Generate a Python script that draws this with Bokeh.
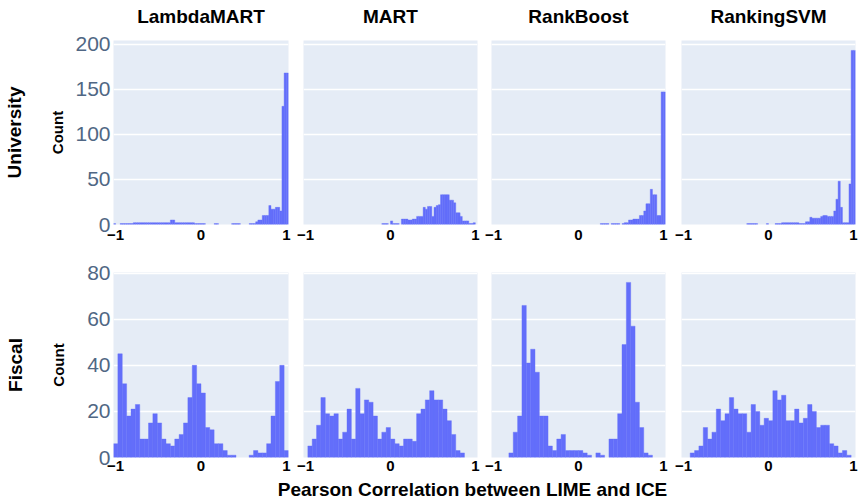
import numpy as np
from bokeh.plotting import figure
from bokeh.layouts import row, column
from bokeh.models import Range1d, FixedTicker, Label, LinearAxis, ColumnDataSource
from bokeh.embed import file_html
from bokeh.resources import INLINE

# ---------------- data ----------------
MODELS = ["LambdaMART", "MART", "RankBoost", "RankingSVM"]
DATASETS = ["University", "Fiscal"]
X_LABEL = "Pearson Correlation between LIME and ICE"
Y_LABEL = "Count"
X_TICKS = [-1, 0, 1]
Y_TICKS_UNIVERSITY = [0, 50, 100, 150, 200]
Y_TICKS_FISCAL = [0, 20, 40, 60, 80]
X_MIN, X_MAX = -1.025, 1.025
Y_MAX_UNIVERSITY = 204
Y_MAX_FISCAL = 80.3

# histogram counts, bins spanning X_MIN..X_MAX evenly
university_lambdamart = [1, 0, 0, 1, 1, 1, 1, 1, 1, 2, 2, 2, 2, 2, 2, 2, 2, 2, 2, 2,
                         2, 2, 2, 2, 2, 2, 5, 5, 2, 2, 2, 2, 2, 2, 2, 2, 2, 1, 1, 1,
                         1, 1, 0, 0, 0, 0, 1, 1, 0, 0, 0, 0, 0, 0, 1, 1, 1, 1, 0, 0,
                         0, 0, 1, 1, 1, 3, 5, 5, 10, 10, 10, 21, 17, 17, 19, 19, 15, 131, 168, 168]
university_mart = [0, 0, 0, 0, 0, 0, 0, 0, 0, 0, 0, 0, 0, 0, 0, 0, 0, 0, 0, 0,
                   0, 0, 0, 0, 0, 0, 0, 0, 0, 0, 0, 0, 0, 0, 0, 0, 1, 1, 1, 0,
                   4, 1, 1, 1, 0, 6, 6, 6, 5, 5, 6, 6, 9, 9, 9, 19, 17, 20, 20, 9,
                   19, 21, 22, 33, 33, 33, 33, 27, 27, 24, 13, 13, 9, 4, 4, 4, 1, 1, 2, 0]
university_rankboost = [0, 0, 0, 0, 0, 0, 0, 0, 0, 0, 0, 0, 0, 0, 0, 0, 0, 0, 0, 0,
                        0, 0, 0, 0, 0, 0, 0, 0, 0, 0, 0, 0, 0, 0, 0, 0, 0, 0, 0, 0,
                        0, 0, 0, 0, 0, 0, 0, 0, 0, 0, 1, 1, 1, 1, 0, 1, 1, 1, 1, 0,
                        1, 2, 2, 5, 5, 6, 6, 6, 10, 10, 15, 23, 23, 39, 33, 33, 10, 10, 147, 147]
university_rankingsvm = [0, 0, 0, 0, 0, 0, 0, 0, 0, 0, 0, 0, 0, 0, 0, 0, 0, 0, 0, 0,
                         0, 0, 0, 0, 0, 0, 0, 0, 0, 0, 1, 1, 1, 1, 1, 0, 0, 0, 0, 1,
                         0, 0, 0, 1, 1, 1, 2, 2, 2, 2, 2, 2, 2, 2, 1, 1, 1, 3, 3, 8,
                         7, 7, 7, 7, 9, 10, 10, 9, 9, 9, 15, 28, 48, 19, 2, 2, 2, 45, 193, 193]

fiscal_lambdamart = [6, 45, 32, 18, 21, 23, 8, 8, 15, 19, 15, 8, 6, 5, 8, 10, 15, 26, 40, 32,
                     28, 13, 12, 6, 6, 3, 1, 1, 0, 0, 0, 1, 3, 2, 2, 6, 18, 33, 40, 3]
fiscal_mart = [0, 5, 8, 14, 26, 19, 18, 19, 8, 11, 21, 8, 30, 19, 25, 24, 18, 8, 11, 13,
               8, 6, 5, 8, 8, 7, 19, 21, 25, 29, 25, 25, 21, 16, 10, 3, 2, 0, 0, 0]
fiscal_rankboost = [0, 0, 0, 0, 2, 11, 18, 66, 41, 47, 37, 18, 18, 5, 3, 8, 10, 3, 3, 3,
                    3, 2, 1, 0, 2, 1, 0, 8, 8, 19, 49, 76, 57, 24, 13, 2, 1, 0, 0, 0]
fiscal_rankingsvm = [0, 0, 2, 3, 5, 13, 8, 11, 21, 16, 19, 26, 21, 19, 19, 11, 23, 20, 14, 17,
                     16, 29, 25, 27, 16, 16, 21, 15, 17, 23, 20, 13, 14, 14, 6, 5, 2, 3, 1, 0]

COUNTS = [
    [university_lambdamart, university_mart, university_rankboost, university_rankingsvm],
    [fiscal_lambdamart, fiscal_mart, fiscal_rankboost, fiscal_rankingsvm],
]
Y_TICKS = [Y_TICKS_UNIVERSITY, Y_TICKS_FISCAL]
Y_MAX = [Y_MAX_UNIVERSITY, Y_MAX_FISCAL]

# ---------------- style / layout ----------------
BAR = "#636EFA"
BG = "#E5ECF6"
FONT = "Liberation Sans"
FRAME_W = [175, 174, 174, 174]
FRAME_H = [184, 185]
BORDER_L = [113, 8, 7, 10]
BORDER_R = [7, 7, 6, 5]
BORDER_T = [40, 10]
BORDER_B = [38, 20]
COUNT_STANDOFF = [6, 17]
ROW_LABEL_STANDOFF = 22
COL_TITLE_STANDOFF = 14


def label_axis(text, standoff):
    """An axis without ticks, used only to carry a bold label."""
    return LinearAxis(ticker=FixedTicker(ticks=[]), axis_label=text,
                      axis_line_color=None, major_tick_line_color=None,
                      minor_tick_line_color=None, major_tick_out=0, major_tick_in=0,
                      major_label_standoff=0, axis_label_standoff=standoff,
                      axis_label_text_font=FONT, axis_label_text_font_size="19px",
                      axis_label_text_font_style="bold", axis_label_text_color="black")


def make_panel(ri, ci):
    counts = np.array(COUNTS[ri][ci], dtype=float)
    edges = np.linspace(X_MIN, X_MAX, len(counts) + 1)
    keep = counts > 0
    src = ColumnDataSource(dict(left=edges[:-1][keep], right=edges[1:][keep], top=counts[keep]))

    p = figure(frame_width=FRAME_W[ci], frame_height=FRAME_H[ri],
               x_range=Range1d(X_MIN, X_MAX), y_range=Range1d(0, Y_MAX[ri]),
               output_backend="svg", toolbar_location=None,
               min_border_left=BORDER_L[ci], min_border_right=BORDER_R[ci],
               min_border_top=BORDER_T[ri], min_border_bottom=BORDER_B[ri],
               title=None)
    p.quad(left="left", right="right", bottom=0, top="top", source=src,
           fill_color=BAR, line_color=BAR, line_width=0.4)

    p.background_fill_color = BG
    p.border_fill_color = "white"
    p.outline_line_color = None

    xa = p.below[0]
    ya = p.left[0]

    p.xgrid.visible = False
    p.ygrid.ticker = FixedTicker(ticks=Y_TICKS[ri])
    p.ygrid.grid_line_color = "white"
    p.ygrid.grid_line_width = 1.5

    xa.ticker = FixedTicker(ticks=X_TICKS)
    xa.axis_line_color = None
    xa.major_tick_line_color = None
    xa.minor_tick_line_color = None
    xa.major_tick_out = 0
    xa.major_tick_in = 0
    xa.major_label_standoff = 5 if ri == 0 else 3
    xa.major_label_text_font = FONT
    xa.major_label_text_font_size = "15px"
    xa.major_label_text_font_style = "bold"
    xa.major_label_text_color = "black"

    if ci == 0:
        ya.ticker = FixedTicker(ticks=Y_TICKS[ri])
        ya.axis_line_color = None
        ya.major_tick_line_color = None
        ya.minor_tick_line_color = None
        ya.major_tick_out = 0
        ya.major_tick_in = 0
        ya.major_label_standoff = 3
        ya.major_label_text_font = FONT
        ya.major_label_text_font_size = "21px"
        ya.major_label_text_color = "#506784"
        ya.axis_label = Y_LABEL
        ya.axis_label_text_font = FONT
        ya.axis_label_text_font_size = "15px"
        ya.axis_label_text_font_style = "bold"
        ya.axis_label_text_color = "black"
        ya.axis_label_standoff = COUNT_STANDOFF[ri]
        p.add_layout(label_axis(DATASETS[ri], ROW_LABEL_STANDOFF), "left")
    else:
        ya.visible = False

    if ri == 0:
        p.add_layout(label_axis(MODELS[ci], COL_TITLE_STANDOFF), "above")
    return p


rows = [row(*[make_panel(ri, ci) for ci in range(4)], spacing=0) for ri in range(2)]

TOTAL_W = 860
XF_H = 23
xf = figure(width=TOTAL_W, height=XF_H, x_range=Range1d(0, TOTAL_W), y_range=Range1d(0, XF_H),
            output_backend="svg", toolbar_location=None, min_border=0, title=None,
            x_axis_location=None, y_axis_location=None)
xf.grid.visible = False
xf.outline_line_color = None
xf.background_fill_color = "white"
xf.border_fill_color = "white"
xf.add_layout(Label(x=472, y=11, text=X_LABEL, text_align="center", text_baseline="alphabetic",
                    text_font=FONT, text_font_size="19px", text_font_style="bold",
                    text_color="black"))

layout = column(rows[0], rows[1], xf, spacing=0)

open("out.html", "w").write(file_html(layout, INLINE))
